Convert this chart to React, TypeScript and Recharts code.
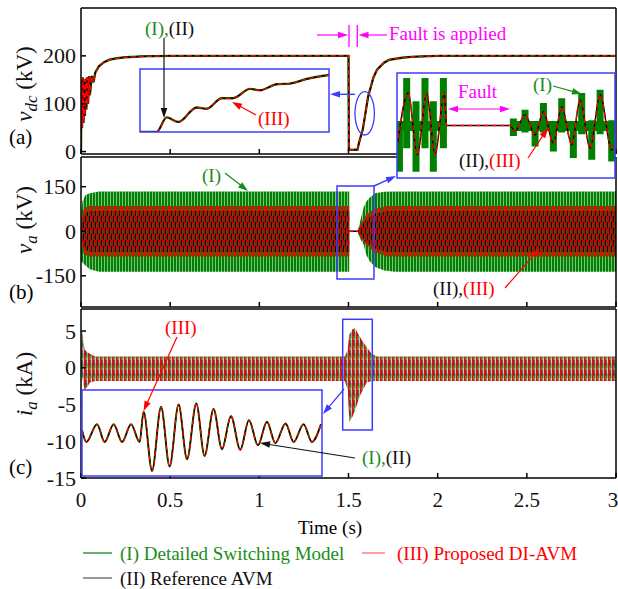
import React from "react";
import { Area, ComposedChart, Line, XAxis, YAxis } from "recharts";

const W = 618;
const H = 589;
const PLOT_L = 81;
const PLOT_R = 615;
const FONT = '"Liberation Serif", "Times New Roman", serif';
const GREEN = "#008000";
const TXT_GREEN = "#1a8c1a";
const RED = "#ff0000";
const BLUE = "#3c3cff";
const MAGENTA = "#ff00ff";

const TIME_TICKS = [0, 0.5, 1, 1.5, 2, 2.5, 3];
const VDC_TICKS = [0, 100, 200];
const VA_TICKS = [-150, 0, 150];
const IA_TICKS = [-15, -10, -5, 0, 5];

// (a) dc voltage, kV
const VDC: [number, number][] = [
  [0, 0], [0.002, 150], [0.006, 50], [0.01, 155], [0.014, 60], [0.018, 150],
  [0.022, 75], [0.026, 152], [0.03, 88], [0.035, 155], [0.04, 100], [0.045, 158],
  [0.05, 118], [0.06, 158], [0.07, 145], [0.08, 165], [0.1, 178], [0.13, 187],
  [0.16, 192], [0.2, 195], [0.25, 197], [0.35, 199], [0.5, 200], [1.5, 200],
  [1.502, 4], [1.55, 4], [1.56, 20], [1.58, 46], [1.61, 115], [1.64, 155],
  [1.66, 171], [1.7, 186], [1.73, 192], [1.8, 196], [1.85, 198], [2.0, 200], [3.0, 200],
];
// zoom of the dc recovery
const VDC_ZOOM: [number, number][] = [
  [1.545, 35], [1.552, 35], [1.5563, 57], [1.5612, 50], [1.569, 72], [1.5732, 70],
  [1.5796, 86], [1.5844, 86], [1.5916, 100], [1.5958, 98], [1.6029, 107],
  [1.6085, 108], [1.6156, 115], [1.6251, 121],
];

// (b) phase voltage envelopes [t, low, high], kV
const VA_GREEN_PRE: [number, number, number][] = [
  [0, -100, 45], [0.008, -105, 100], [0.025, -115, 122], [0.05, -128, 128],
  [0.1, -136, 134], [1.504, -136, 134],
];
const VA_GREEN_POST: [number, number, number][] = [
  [1.555, -8, 8], [1.57, -30, 45], [1.585, -45, 80], [1.6, -80, 100],
  [1.62, -102, 114], [1.65, -120, 128], [1.7, -132, 133], [1.76, -136, 134], [3, -136, 134],
];
const VA_RED_PRE: [number, number, number][] = [
  [0, -45, 45], [0.015, -75, 75], [0.04, -85, 85], [1.504, -85, 85],
];
const VA_RED_POST: [number, number, number][] = [
  [1.555, -8, 8], [1.565, -20, 20], [1.593, -40, 51], [1.64, -68, 74], [1.715, -85, 85], [3, -85, 85],
];
const VA_BLACK_PRE: [number, number, number][] = [
  [0, -30, 30], [0.02, -60, 60], [0.05, -70, 68], [1.504, -70, 68],
];
const VA_BLACK_POST: [number, number, number][] = [
  [1.555, -5, 5], [1.57, -15, 15], [1.6, -35, 40], [1.65, -58, 60], [1.72, -70, 68], [3, -70, 68],
];
const VA_FAULT: [number, number][] = [[1.504, 0], [1.555, 0]];

// zoom of v_a around the fault
const VA_ZOOM_AVM: [number, number][] = [
  [1.4602, -60], [1.4693, 93], [1.4768, -84], [1.4845, 93], [1.4914, -84],
  [1.4991, 93], [1.501, 0], [1.5533, 0], [1.5574, -17], [1.5657, 31], [1.574, -27],
  [1.5809, 40], [1.5891, -50], [1.596, 54], [1.6043, -55], [1.6111, 74],
  [1.6194, -65], [1.6277, 88], [1.6373, -70], [1.64, -60],
];
const VA_ZOOM_PULSES: [number, number, number][] = [
  [1.462, -132, 0], [1.468, -65, 136], [1.4757, -132, 69], [1.4831, -65, 136],
  [1.49, -132, 69], [1.4983, -65, 136], [1.5561, -30, 20], [1.5657, -20, 45],
  [1.574, -60, 10], [1.5809, -20, 64], [1.5891, -74, 10], [1.596, -20, 78],
  [1.6056, -93, 10], [1.6125, -25, 93], [1.6208, -98, 15], [1.6277, -25, 102],
  [1.6373, -103, 15],
];
const VA_ZOOM_MID_PRE: [number, number, number][] = [[1.46, -16, 13], [1.501, -16, 13]];
const VA_ZOOM_MID_POST: [number, number, number][] = [[1.5533, -16, 13], [1.64, -16, 13]];

// (c) phase current envelope [t, low, high], kA
const IA_BAND: [number, number, number][] = [
  [0, 0, 0.5], [0.004, -1, 5.2], [0.012, -2, 4], [0.02, -3, 2.5], [0.035, -2.6, 2.1],
  [0.05, -2, 1.9], [0.08, -1.8, 1.55], [1.48, -1.8, 1.55], [1.495, -3, 2.5],
  [1.505, -7.3, 4.5], [1.52, -6.8, 5.2], [1.536, -5.8, 5.4], [1.564, -3.8, 4.2],
  [1.602, -2.0, 2.8], [1.63, -1.8, 1.9], [1.66, -1.8, 1.55], [3, -1.8, 1.55],
];
// zoom of i_a around the fault
const IA_ZOOM: [number, number][] = [
  [1.47, 0.5], [1.4729, -1.6], [1.48, 1.56], [1.4851, -1.6], [1.4911, 1.56],
  [1.4967, -1.6], [1.5027, 1.56], [1.5084, -1.6], [1.5111, 3.8], [1.5167, -6.8],
  [1.5227, 4.7], [1.5284, -6.0], [1.5344, 5.1], [1.54, -4.7], [1.5462, 5.3],
  [1.5517, -4.1], [1.5577, 4.3], [1.5633, -2.9], [1.5693, 3.0], [1.5755, -3.0],
  [1.5813, 2.3], [1.5873, -2.2], [1.5933, 2.0], [1.5989, -1.8], [1.6057, 1.7],
  [1.6111, -1.6], [1.6177, 1.56], [1.6233, -1.6], [1.6293, 1.56],
];

const pts = (a: [number, number][]) => a.map(([t, v]) => ({ t, v }));
const band = (a: [number, number, number][]) => a.map(([t, lo, hi]) => ({ t, r: [lo, hi] }));
// vertical segments separated by gaps, drawn as one thick line
const segments = (a: [number, number, number][]) =>
  a.flatMap(([t, lo, hi]) => [{ t, v: lo }, { t, v: hi }, { t, v: null }]);

const XTick = (showLabel: boolean) => (p: any) => {
  const last = p.payload.value === 3;
  return (
    <g>
      <line x1={p.x} x2={p.x} y1={p.y} y2={p.y - 5} stroke="#000" strokeWidth={1.5} />
      {showLabel && (
        <text x={last ? p.x - 3 : p.x} y={p.y + 22} textAnchor="middle" dominantBaseline="central"
          fontSize={21} fontFamily={FONT} fill="#111">
          {p.payload.value}
        </text>
      )}
    </g>
  );
};

const YTick = (p: any) => (
  <g>
    <line x1={p.x} x2={p.x + 5} y1={p.y} y2={p.y} stroke="#000" strokeWidth={1.5} />
    <text x={p.x - 5} y={p.y} textAnchor="end" dominantBaseline="central" fontSize={22} fontFamily={FONT} fill="#111">
      {p.payload.value}
    </text>
  </g>
);

function Panel({ top, bottom, domain, yTicks, showX, defs, children }: any) {
  const axisLine = { stroke: "#000", strokeWidth: 1.5 };
  const tickLine = { stroke: "#000", strokeWidth: 1.5 };
  return (
    <div style={{ position: "absolute", left: 0, top: 0 }}>
      <ComposedChart width={W} height={H}
        margin={{ top: top - 1, bottom: H - bottom - 30, left: PLOT_L - 30, right: W - PLOT_R - 1 }}>
        {defs}
        <XAxis xAxisId="b" type="number" dataKey="t" domain={[0, 3]} ticks={TIME_TICKS} interval={0}
          allowDataOverflow height={30} tickSize={0} tickMargin={0} tickLine={false} axisLine={axisLine} tick={XTick(showX)} />
        <XAxis xAxisId="t" orientation="top" type="number" dataKey="t" domain={[0, 3]} ticks={TIME_TICKS} interval={0}
          allowDataOverflow height={1} mirror tick={false} tickSize={5} tickLine={tickLine} axisLine={axisLine} />
        <YAxis yAxisId="l" type="number" domain={domain} ticks={yTicks} interval={0} allowDataOverflow
          width={30} tickSize={0} tickMargin={0} tickLine={false} axisLine={axisLine} tick={YTick} />
        <YAxis yAxisId="r" orientation="right" type="number" domain={domain} ticks={yTicks} interval={0} allowDataOverflow
          width={1} mirror tick={false} tickSize={5} tickLine={tickLine} axisLine={axisLine} />
        <Line xAxisId="t" yAxisId="r" data={[{ t: 0, v: domain[0] }, { t: 3, v: domain[1] }]} dataKey="v"
          stroke="none" dot={false} activeDot={false} isAnimationActive={false} />
        {children}
      </ComposedChart>
    </div>
  );
}

const S = { xAxisId: "b", yAxisId: "l", isAnimationActive: false, dot: false, activeDot: false } as const;

function Inset({ left, top, width, height, xDomain, yDomain, children }: any) {
  return (
    <div style={{ position: "absolute", left, top, width, height, background: "#fff" }}>
      <ComposedChart width={width} height={height} margin={{ top: 0, right: 0, bottom: 0, left: 0 }}>
        <XAxis dataKey="t" type="number" domain={xDomain} allowDataOverflow hide />
        <YAxis type="number" domain={yDomain} allowDataOverflow hide />
        {children}
      </ComposedChart>
    </div>
  );
}

const I = { isAnimationActive: false, dot: false, activeDot: false } as const;

function Arrow({ x1, y1, x2, y2, color, both = false, w = 1.2, head = 10 }: any) {
  const a = Math.atan2(y2 - y1, x2 - x1);
  const hw = head * 0.33;
  const tri = (x: number, y: number, ang: number) => {
    const bx = x - head * Math.cos(ang);
    const by = y - head * Math.sin(ang);
    return `${x},${y} ${bx + hw * Math.sin(ang)},${by - hw * Math.cos(ang)} ${bx - hw * Math.sin(ang)},${by + hw * Math.cos(ang)}`;
  };
  const sx = both ? x1 + head * 0.8 * Math.cos(a) : x1;
  const sy = both ? y1 + head * 0.8 * Math.sin(a) : y1;
  return (
    <g>
      <line x1={sx} y1={sy} x2={x2 - head * 0.8 * Math.cos(a)} y2={y2 - head * 0.8 * Math.sin(a)} stroke={color} strokeWidth={w} />
      <polygon points={tri(x2, y2, a)} fill={color} />
      {both && <polygon points={tri(x1, y1, a + Math.PI)} fill={color} />}
    </g>
  );
}

function YLabel({ x, y, sym, sub, unit }: any) {
  return (
    <text transform={`translate(${x},${y}) rotate(-90)`} textAnchor="middle" fontFamily={FONT} fontSize={23} fill="#111">
      <tspan fontStyle="italic">{sym}</tspan>
      <tspan fontStyle="italic" fontSize={17} dy={5}>{sub}</tspan>
      <tspan dy={-5}>{` (${unit})`}</tspan>
    </text>
  );
}

function Overlay() {
  const t = { fontFamily: FONT, fontSize: 19, dominantBaseline: "central" } as const;
  return (
    <svg width={W} height={H} style={{ position: "absolute", left: 0, top: 0, pointerEvents: "none" }}>
      {/* axis labels */}
      <YLabel x={32} y={84} sym="v" sub="dc" unit="kV" />
      <YLabel x={32} y={220} sym="v" sub="a" unit="kV" />
      <YLabel x={32} y={384} sym="i" sub="a" unit="kA" />
      <text x={9} y={137} {...t} fontSize={21}>(a)</text>
      <text x={9} y={292} {...t} fontSize={21}>(b)</text>
      <text x={9} y={467} {...t} fontSize={21}>(c)</text>
      <text x={330} y={527} {...t} textAnchor="middle">Time (s)</text>

      {/* inset frames */}
      <rect x={140} y={69} width={189} height={63} fill="none" stroke={BLUE} strokeWidth={1.5} />
      <rect x={397} y={73} width={218} height={105} fill="none" stroke={BLUE} strokeWidth={1.5} />
      <rect x={337} y={186} width={37} height={93} fill="none" stroke={BLUE} strokeWidth={1.5} />
      <rect x={342.7} y={319.3} width={29.6} height={110.7} fill="none" stroke={BLUE} strokeWidth={1.5} />
      <rect x={82} y={390} width={240} height={86} fill="none" stroke={BLUE} strokeWidth={1.5} />
      <ellipse cx={364.7} cy={113.3} rx={9.7} ry={21.7} fill="none" stroke={BLUE} strokeWidth={1.3} />
      <Arrow x1={355} y1={94.3} x2={330} y2={94.3} color={BLUE} w={1.4} />
      <Arrow x1={374} y1={186} x2={396} y2={176} color={BLUE} w={1.4} />
      <Arrow x1={344} y1={389} x2={323} y2={414} color={BLUE} w={1.2} />

      {/* panel (a) */}
      <text x={145} y={28} {...t}>
        <tspan fill={TXT_GREEN}>(I),</tspan><tspan fill="#111">(II)</tspan>
      </text>
      <Arrow x1={164} y1={38} x2={164} y2={118} color="#111" />
      <text x={258} y={118} {...t} fill={RED}>(III)</text>
      <Arrow x1={256} y1={115} x2={232} y2={102} color={RED} />
      <line x1={349} x2={349} y1={25} y2={47} stroke={MAGENTA} strokeWidth={1.3} />
      <line x1={357.3} x2={357.3} y1={25} y2={47} stroke={MAGENTA} strokeWidth={1.3} />
      <Arrow x1={317} y1={35} x2={348} y2={35} color={MAGENTA} />
      <Arrow x1={387} y1={35} x2={358.5} y2={35} color={MAGENTA} />
      <text x={389} y={33} {...t} fill={MAGENTA}>Fault is applied</text>
      <text x={458} y={91} {...t} fill={MAGENTA}>Fault</text>
      <Arrow x1={448} y1={109} x2={510} y2={109} color={MAGENTA} both />
      <text x={533} y={84} {...t} fill={TXT_GREEN}>(I)</text>
      <Arrow x1={553} y1={86} x2={582} y2={94} color={TXT_GREEN} />
      <text x={459} y={160} {...t}>
        <tspan fill="#111">(II),</tspan><tspan fill={RED}>(III)</tspan>
      </text>
      <Arrow x1={528} y1={158} x2={548} y2={128} color={RED} />

      {/* panel (b) */}
      <text x={202} y={175} {...t} fill={TXT_GREEN}>(I)</text>
      <Arrow x1={225} y1={173} x2={248} y2={191} color={TXT_GREEN} />
      <text x={433} y={288} {...t}>
        <tspan fill="#111">(II),</tspan><tspan fill={RED}>(III)</tspan>
      </text>
      <Arrow x1={505} y1={288} x2={540} y2={248} color={RED} />

      {/* panel (c) */}
      <text x={165} y={327} {...t} fill={RED}>(III)</text>
      <Arrow x1={177} y1={337} x2={143.5} y2={411} color={RED} />
      <text x={362} y={457} {...t}>
        <tspan fill={TXT_GREEN}>(I),</tspan><tspan fill="#111">(II)</tspan>
      </text>
      <Arrow x1={355} y1={458} x2={260} y2={443} color="#111" />

      {/* legend */}
      <line x1={83} x2={112} y1={553} y2={553} stroke={GREEN} strokeWidth={1.2} />
      <text x={120} y={553} {...t} fill={TXT_GREEN}>(I) Detailed Switching Model</text>
      <line x1={362} x2={385} y1={553} y2={553} stroke="#ff6060" strokeWidth={1.2} />
      <text x={397} y={553} {...t} fill={RED}>(III) Proposed DI-AVM</text>
      <line x1={83} x2={112} y1={578} y2={578} stroke="#555" strokeWidth={1.2} />
      <text x={120} y={578} {...t} fill="#111">(II) Reference AVM</text>
    </svg>
  );
}

export default function App() {
  const vdc = pts(VDC);
  return (
    <div style={{ position: "absolute", left: 0, top: 0, width: W, height: H, background: "#fff", overflow: "hidden" }}>
      {/* (a) */}
      <Panel top={9} bottom={154} domain={[-5, 300]} yTicks={VDC_TICKS} showX={false}>
        <Line {...S} data={vdc} dataKey="v" type="linear" stroke={GREEN} strokeWidth={2.4} />
        <Line {...S} data={vdc} dataKey="v" type="linear" stroke="#000" strokeWidth={1.5} />
        <Line {...S} data={vdc} dataKey="v" type="linear" stroke={RED} strokeWidth={1.5} strokeDasharray="5 3" />
      </Panel>

      {/* (b) */}
      <Panel top={158} bottom={307} domain={[-255, 250]} yTicks={VA_TICKS} showX={false}
        defs={
          <defs>
            <pattern id="vaG" width="3" height="10" patternUnits="userSpaceOnUse">
              <rect x="0" y="0" width="3" height="10" fill="#9fd09f" />
              <rect x="0" y="0" width="2.2" height="10" fill={GREEN} />
            </pattern>
            <pattern id="vaR" width="3" height="10" patternUnits="userSpaceOnUse">
              <rect x="0" y="0" width="3" height="10" fill={GREEN} />
              <rect x="0" y="0" width="1.8" height="10" fill={RED} />
            </pattern>
            <pattern id="vaK" width="4" height="12" patternUnits="userSpaceOnUse">
              <rect x="0" y="0" width="4" height="12" fill="#c80000" />
              <rect x="1" y="0" width="1" height="6" fill="#000" />
              <rect x="3" y="6" width="1" height="6" fill="#000" />
              <rect x="2" y="2" width="1" height="5" fill="#1d6a1d" />
              <rect x="0" y="8" width="1" height="4" fill="#1d6a1d" />
            </pattern>
          </defs>
        }>
        <Area {...S} data={band(VA_GREEN_PRE)} dataKey="r" type="linear" stroke="none" fill="url(#vaG)" fillOpacity={1} />
        <Area {...S} data={band(VA_GREEN_POST)} dataKey="r" type="linear" stroke="none" fill="url(#vaG)" fillOpacity={1} />
        <Area {...S} data={band(VA_RED_PRE)} dataKey="r" type="linear" stroke="none" fill="url(#vaR)" fillOpacity={1} />
        <Area {...S} data={band(VA_RED_POST)} dataKey="r" type="linear" stroke="none" fill="url(#vaR)" fillOpacity={1} />
        <Area {...S} data={band(VA_BLACK_PRE)} dataKey="r" type="linear" stroke="none" fill="url(#vaK)" fillOpacity={1} />
        <Area {...S} data={band(VA_BLACK_POST)} dataKey="r" type="linear" stroke="none" fill="url(#vaK)" fillOpacity={1} />
        <Line {...S} data={pts(VA_FAULT)} dataKey="v" stroke="#000" strokeWidth={1.5} />
        <Line {...S} data={pts(VA_FAULT)} dataKey="v" stroke={RED} strokeWidth={1.5} strokeDasharray="4 3" />
      </Panel>

      {/* (c) */}
      <Panel top={310} bottom={478} domain={[-15, 8]} yTicks={IA_TICKS} showX
        defs={
          <defs>
            <pattern id="iaB" width="4" height="10" patternUnits="userSpaceOnUse">
              <rect x="0" y="0" width="4" height="10" fill="#e8bcbc" />
              <rect x="0" y="0" width="1.5" height="10" fill={RED} />
              <rect x="1.5" y="0" width="1" height="6" fill="#000" />
              <rect x="1.5" y="6" width="1" height="4" fill={GREEN} />
              <rect x="2.5" y="3" width="0.8" height="5" fill={GREEN} />
            </pattern>
          </defs>
        }>
        <Area {...S} data={band(IA_BAND)} dataKey="r" type="linear" stroke="none" fill="url(#iaB)" fillOpacity={1} />
      </Panel>

      {/* zoom: dc voltage recovery */}
      <Inset left={140} top={69} width={189} height={63} xDomain={[1.545, 1.625]} yDomain={[35, 130]}>
        <Line {...I} data={pts(VDC_ZOOM)} dataKey="v" type="monotoneX" stroke={GREEN} strokeWidth={2.4} />
        <Line {...I} data={pts(VDC_ZOOM)} dataKey="v" type="monotoneX" stroke="#000" strokeWidth={1.4} />
        <Line {...I} data={pts(VDC_ZOOM)} dataKey="v" type="monotoneX" stroke={RED} strokeWidth={1.4} strokeDasharray="5 3" />
      </Inset>

      {/* zoom: v_a around the fault */}
      <Inset left={397} top={73} width={218} height={105} xDomain={[1.46, 1.64]} yDomain={[-150, 150]}>
        <Area {...I} data={band(VA_ZOOM_MID_PRE)} dataKey="r" type="linear" stroke="none" fill={GREEN} fillOpacity={1} />
        <Area {...I} data={band(VA_ZOOM_MID_POST)} dataKey="r" type="linear" stroke="none" fill={GREEN} fillOpacity={1} />
        <Line {...I} data={segments(VA_ZOOM_PULSES)} dataKey="v" type="linear" stroke={GREEN} strokeWidth={7}
          strokeLinecap="butt" connectNulls={false} />
        <Line {...I} data={pts(VA_ZOOM_AVM)} dataKey="v" type="monotoneX" stroke="#000" strokeWidth={1.4} />
        <Line {...I} data={pts(VA_ZOOM_AVM)} dataKey="v" type="monotoneX" stroke={RED} strokeWidth={1.4} strokeDasharray="5 3" />
      </Inset>

      {/* zoom: i_a around the fault */}
      <Inset left={82} top={390} width={240} height={86} xDomain={[1.47, 1.63]} yDomain={[-7.7, 7.7]}>
        <Line {...I} data={pts(IA_ZOOM)} dataKey="v" type="monotoneX" stroke={GREEN} strokeWidth={2} />
        <Line {...I} data={pts(IA_ZOOM)} dataKey="v" type="monotoneX" stroke="#000" strokeWidth={1.3} />
        <Line {...I} data={pts(IA_ZOOM)} dataKey="v" type="monotoneX" stroke={RED} strokeWidth={1.3} strokeDasharray="5 3" />
      </Inset>

      <Overlay />
    </div>
  );
}
